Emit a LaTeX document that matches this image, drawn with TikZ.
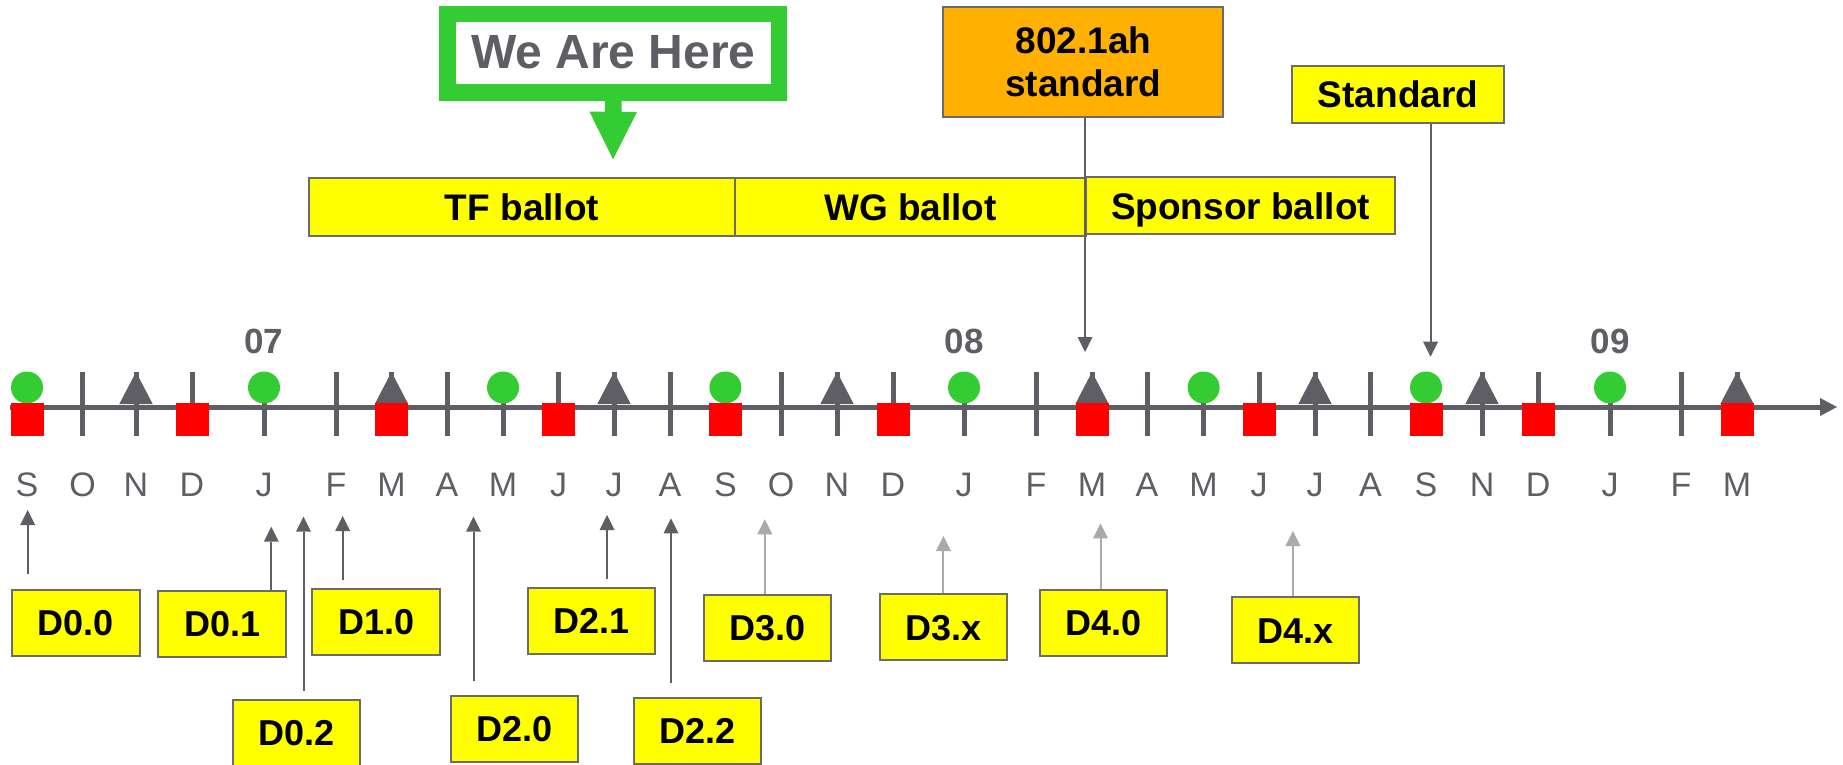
\documentclass[tikz,border=0pt]{standalone}
\usepackage{fontspec}
\setmainfont{Liberation Sans}
\usetikzlibrary{arrows.meta}
\definecolor{axgray}{HTML}{5F5E64}
\definecolor{ltgray}{HTML}{AAAAAA}
\definecolor{bgray}{HTML}{6B6B6B}
\definecolor{wgreen}{HTML}{33CC33}
\definecolor{mred}{HTML}{FF0000}
\definecolor{dyellow}{HTML}{FFFF00}
\definecolor{sorange}{HTML}{FFB000}
\begin{document}
\begin{tikzpicture}[x=0.4pt,y=-0.4pt,
  axisline/.style={draw=axgray,line width=2pt,-{Triangle[width=7.2pt,length=6.8pt,line width=0pt]}},
  tickline/.style={draw=axgray,line width=2pt},
  mon/.style={text=axgray,font=\fontsize{13.6pt}{16pt}\selectfont,inner sep=0pt,anchor=base},
  yr/.style={text=axgray,font=\bfseries\fontsize{14pt}{16pt}\selectfont,inner sep=0pt,anchor=base},
  dbox/.style={draw=bgray,line width=0.8pt,fill=dyellow,font=\bfseries\fontsize{14.4pt}{17pt}\selectfont,
    inner sep=0pt,text height=10.3pt,text depth=0pt,minimum width=51pt,minimum height=26.4pt},
  bbox/.style={draw=bgray,line width=0.8pt,fill=dyellow,font=\bfseries\fontsize{14.8pt}{17pt}\selectfont,
    inner sep=0pt,text height=10.6pt,text depth=0pt,minimum height=23pt},
  obox/.style={draw=bgray,line width=0.8pt,fill=sorange,font=\bfseries\fontsize{14.8pt}{17.1pt}\selectfont,
    inner sep=0pt,align=center,minimum width=112pt,minimum height=44pt},
  wbox/.style={draw=wgreen,line width=6.6pt,fill=white,text=axgray,font=\bfseries\fontsize{19.2pt}{22pt}\selectfont,
    inner sep=0pt,text height=13.75pt,text depth=2pt,minimum width=132.6pt,minimum height=31.3pt},
  warrow/.style={draw=wgreen,line width=6.7pt,-{Triangle[width=19pt,length=19pt,line width=0pt]}},
  garrow/.style={draw=axgray,line width=0.8pt,-{Triangle[width=6pt,length=6pt,line width=0pt]}},
  darr/.style={draw=axgray,line width=0.8pt,-{Triangle[width=6pt,length=6pt,line width=0pt]}},
  larr/.style={draw=ltgray,line width=0.8pt,-{Triangle[width=6pt,length=6pt,line width=0pt]}}
]
\useasboundingbox (0,0) rectangle (1843,765);
\fill[white] (0,0) rectangle (1843,765);

% time axis
\coordinate (axs) at (10,407);
\coordinate (axe) at (1837,407);
\draw[axisline] (axs) -- (axe);

% months, ticks and labels
\foreach \x/\lab [count=\i] in {27/S,82.6/O,136/N,192/D,264/J,336/F,391.5/M,447/A,503/M,558.5/J,614/J,670/A,
  725.4/S,781/O,837/N,893/D,964/J,1036/F,1092/M,1147/A,1203.6/M,1259/J,1315/J,1370.5/A,
  1426/S,1482/N,1538/D,1610/J,1681/F,1737/M}{
  \coordinate (t\i) at (\x,407);
  \draw[tickline] (\x,372) -- (\x,436);
  \node[mon] (m\i) at (\x,496.7) {\lab};
}
% triangles
\foreach \i in {3,7,11,15,19,23,26,30}{
  \begin{scope}[shift={(t\i)}]
    \fill[axgray] (-16.7,-3) -- (0,-35) -- (16.7,-3) -- cycle;
  \end{scope}
}
% green circles
\foreach \i in {1,5,9,13,17,21,25,28}{
  \begin{scope}[shift={(t\i)}]
    \fill[wgreen] (0,-19.5) circle[radius=16];
  \end{scope}
}
% red squares
\foreach \i in {1,4,7,10,13,16,19,22,25,27,30}{
  \begin{scope}[shift={(t\i)}]
    \fill[mred] (-16.5,-4) rectangle (16.5,29);
  \end{scope}
}
% years
\node[yr] (y07) at (264,353.3) {07};
\node[yr] (y08) at (964,353.3) {08};
\node[yr] (y09) at (1610,353.3) {09};

% We Are Here
\node[wbox] (we) at (613.3,53.35) {We Are Here};
\coordinate (here) at (613,159.3);
\draw[warrow] (we.south) -- (here);

% ballots
\node[bbox,minimum width=170.4pt] (tf) at (522,207) {TF ballot};
\node[bbox,minimum width=140.4pt] (wg) at (910.5,207) {WG ballot};
\node[bbox,minimum width=123.6pt,minimum height=22.8pt] (sp) at (1240.5,205.8) {Sponsor ballot};

% standards
\node[obox] (s802) at (1083.3,61.7) {802.1ah\\standard};
\node[bbox,minimum width=84.8pt,minimum height=22.7pt] (std) at (1398,94.35) {Standard};
\coordinate (tip802) at (1085,352);
\coordinate (tipstd) at (1430.5,356.7);
\draw[garrow] (s802.south -| tip802) -- (tip802);
\draw[garrow] (std.south -| tipstd) -- (tipstd);

% drafts
\node[dbox] (d00) at (75.85,623) {D0.0};
\node[dbox] (d01) at (222.2,624) {D0.1};
\node[dbox] (d10) at (376.2,621.8) {D1.0};
\node[dbox] (d02) at (296.7,733) {D0.2};
\node[dbox] (d20) at (514.3,728.7) {D2.0};
\node[dbox] (d21) at (591.3,621) {D2.1};
\node[dbox] (d22) at (697.7,730.7) {D2.2};
\node[dbox] (d30) at (767.5,627.5) {D3.0};
\node[dbox] (d3x) at (943.5,627.2) {D3.x};
\node[dbox] (d40) at (1103.3,622.7) {D4.0};
\node[dbox] (d4x) at (1295.4,630.4) {D4.x};

\foreach \nm/\ax/\ay/\gp/\st in {d00/27.7/510/6/darr,d01/271.3/526.7/0/darr,d02/303.5/516.7/3.3/darr,
  d10/342.7/516/3/darr,d20/473.5/516.7/5.6/darr,d21/607/515/3.4/darr,d22/671/518.3/5.6/darr,
  d30/764.8/519.3/0/larr,d3x/943.4/536/0/larr,d40/1100.5/523.3/0/larr,d4x/1292.9/531/0/larr}{
  \coordinate (tip\nm) at (\ax,\ay);
  \draw[\st,shorten <=\gp pt] (\nm.north -| tip\nm) -- (tip\nm);
}
\end{tikzpicture}
\end{document}
